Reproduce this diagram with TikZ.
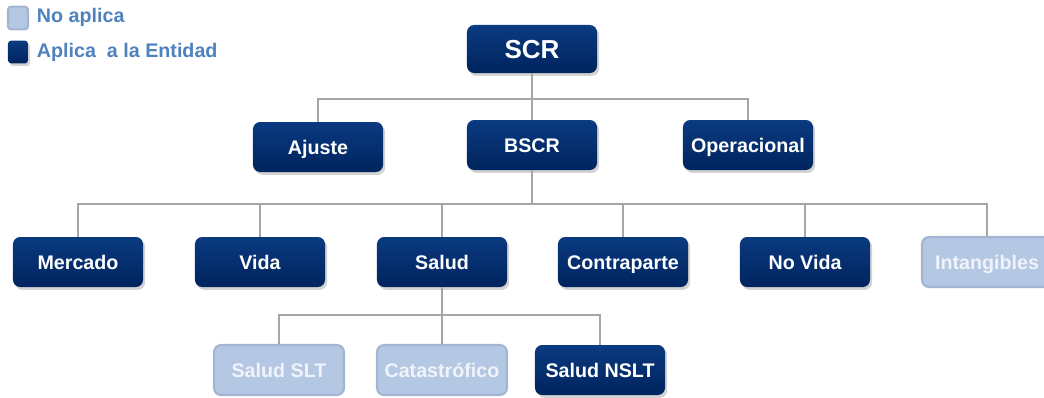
\documentclass[tikz,border=0pt]{standalone}
\usepackage{fontspec}
\setmainfont{Liberation Sans}
\usetikzlibrary{shadows}

\definecolor{navytop}{RGB}{10,58,128}
\definecolor{navybot}{RGB}{0,36,94}
\definecolor{palefill}{RGB}{180,199,227}
\definecolor{paleedge}{RGB}{163,181,210}
\definecolor{paletext}{RGB}{240,244,250}
\definecolor{legendtext}{RGB}{79,129,189}
\definecolor{linkgray}{RGB}{166,166,166}

\begin{document}
\begin{tikzpicture}[x=0.025cm,y=-0.025cm,
    box/.style={rounded corners=0.18cm,minimum width=3.25cm,minimum height=1.25cm,
                inner sep=0pt,text height=11pt,text depth=0pt,
                font=\bfseries\fontsize{14}{16}\selectfont},
    aplica/.style={box,top color=navytop,bottom color=navybot,text=white,
                   drop shadow={shadow xshift=1.5pt,shadow yshift=-2pt,opacity=0.35}},
    noaplica/.style={box,fill=palefill,draw=paleedge,line width=1.5pt,text=paletext},
    legbox/.style={minimum width=0.5cm,minimum height=0.57cm,rounded corners=0.08cm,
                   text height=,text depth=},
    legtext/.style={anchor=west,text=legendtext,font=\bfseries\fontsize{14}{16}\selectfont},
    link/.style={draw=linkgray,line width=1.2pt}]

    % 画布
    \useasboundingbox (0,0) rectangle (1044,397);
    \clip (0,0) rectangle (1044,397);

    % 图例
    \node[noaplica,legbox] (legno) at (18,18) {};
    \node[legtext] (legnotext) at (32,17) {No aplica};
    \node[aplica,legbox] (legyes) at (18,52) {};
    \node[legtext] (legyestext) at (32,52) {Aplica~ a la Entidad};

    % 第一层
    \node[aplica,minimum height=1.2cm,text height=14pt,text depth=0pt,
          font=\bfseries\fontsize{18.5}{20}\selectfont] (scr) at (532,49) {SCR};

    % 第二层
    \node[aplica] (ajuste) at (318,147) {Ajuste};
    \node[aplica] (bscr) at (532,145) {BSCR};
    \node[aplica] (operacional) at (748,145) {Operacional};

    % 第三层
    \node[aplica] (mercado) at (78,262) {Mercado};
    \node[aplica] (vida) at (260,262) {Vida};
    \node[aplica] (salud) at (442,262) {Salud};
    \node[aplica] (contraparte) at (623,262) {Contraparte};
    \node[aplica] (novida) at (805,262) {No Vida};
    \node[noaplica] (intangibles) at (987,262) {Intangibles};

    % 第四层
    \node[noaplica] (saludslt) at (279,370) {Salud SLT};
    \node[noaplica] (catastrofico) at (442,370) {Catastrófico};
    \node[aplica] (saludnslt) at (600,370) {Salud NSLT};

    % 连线
    \coordinate (bus1) at (532,99);
    \coordinate (bus2) at (532,204);
    \coordinate (bus3) at (442,315);

    \draw[link] (scr) -- (bscr);
    \draw[link] (ajuste.north) |- (bus1) -| (operacional.north);

    \draw[link] (bscr) -- (bus2);
    \draw[link] (mercado.north) |- (bus2) -| (intangibles.north);
    \draw[link] (vida.north) -- (vida.north |- bus2);
    \draw[link] (salud.north) -- (salud.north |- bus2);
    \draw[link] (contraparte.north) -- (contraparte.north |- bus2);
    \draw[link] (novida.north) -- (novida.north |- bus2);

    \draw[link] (salud) -- (catastrofico);
    \draw[link] (saludslt.north) |- (bus3) -| (saludnslt.north);

\end{tikzpicture}
\end{document}
